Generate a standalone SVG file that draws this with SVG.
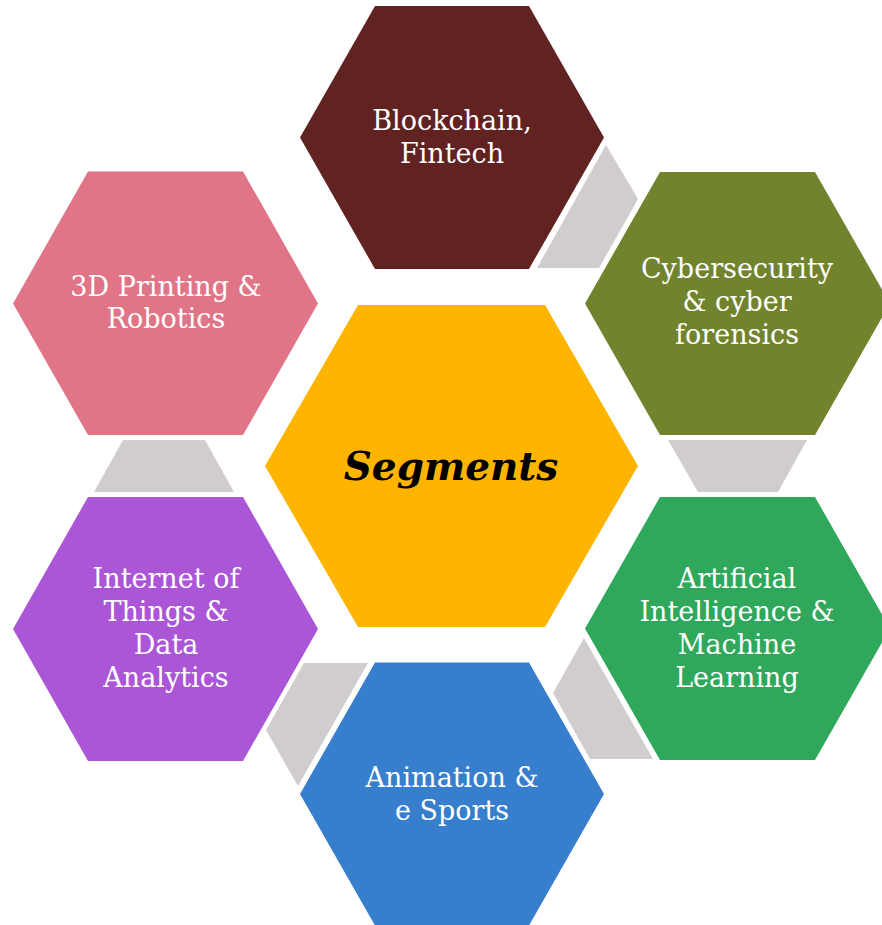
<svg xmlns="http://www.w3.org/2000/svg" width="882" height="925" viewBox="0 0 882 925">
<style>
.lbl{font-family:"DejaVu Serif","Liberation Serif",serif;font-size:27px;fill:#ffffff;text-anchor:middle}
.ctr{font-family:"DejaVu Serif","Liberation Serif",serif;font-size:39px;font-weight:bold;font-style:italic;fill:#000000;text-anchor:middle}
.link{fill:#D2CDCD}
</style>
<rect width="882" height="925" fill="#ffffff"/>
<g id="connectors">
<polygon class="link" points="606,145 638,199 599,268 537,268"/>
<polygon class="link" points="668,440 807,440 778,492 698,492"/>
<polygon class="link" points="584,638 653,759 590,759 553,693"/>
<polygon class="link" points="304,663 368,663 298,786 266,730"/>
<polygon class="link" points="123,440 205,440 234,492 94,492"/>
</g>
<g id="center">
<polygon points="358,305 545,305 638,466 545,627 358,627 265,466" fill="#FFB500"/>
<text class="ctr" x="451" y="480">Segments</text>
</g>
<g id="blockchain">
<polygon points="375,6 529,6 604,137.5 529,269 375,269 300,137.5" fill="#612222"/>
<text class="lbl" x="452" y="130">Blockchain,</text>
<text class="lbl" x="452" y="163">Fintech</text>
</g>
<g id="cyber">
<polygon points="660,172 815,172 890,303.5 815,435 660,435 585,303.5" fill="#71832D"/>
<text class="lbl" x="737" y="278">Cybersecurity</text>
<text class="lbl" x="737" y="311">&amp; cyber</text>
<text class="lbl" x="737" y="344">forensics</text>
</g>
<g id="ai">
<polygon points="660,497 815,497 890,628.5 815,760 660,760 585,628.5" fill="#2FA85C"/>
<text class="lbl" x="737" y="588">Artificial</text>
<text class="lbl" x="737" y="621">Intelligence &amp;</text>
<text class="lbl" x="737" y="654">Machine</text>
<text class="lbl" x="737" y="687">Learning</text>
</g>
<g id="animation">
<polygon points="375,662.5 529,662.5 604,794 529,925.5 375,925.5 300,794" fill="#377ECC"/>
<text class="lbl" x="452" y="787">Animation &amp;</text>
<text class="lbl" x="452" y="820">e Sports</text>
</g>
<g id="iot">
<polygon points="88,497 243,497 318,629 243,761 88,761 13,629" fill="#AB56D6"/>
<text class="lbl" x="166" y="588">Internet of</text>
<text class="lbl" x="166" y="621">Things &amp;</text>
<text class="lbl" x="166" y="654">Data</text>
<text class="lbl" x="166" y="687">Analytics</text>
</g>
<g id="printing">
<polygon points="88,171.5 243,171.5 318,303.5 243,435 88,435 13,303.5" fill="#E07587"/>
<text class="lbl" x="166" y="296">3D Printing &amp;</text>
<text class="lbl" x="166" y="328">Robotics</text>
</g>
</svg>
